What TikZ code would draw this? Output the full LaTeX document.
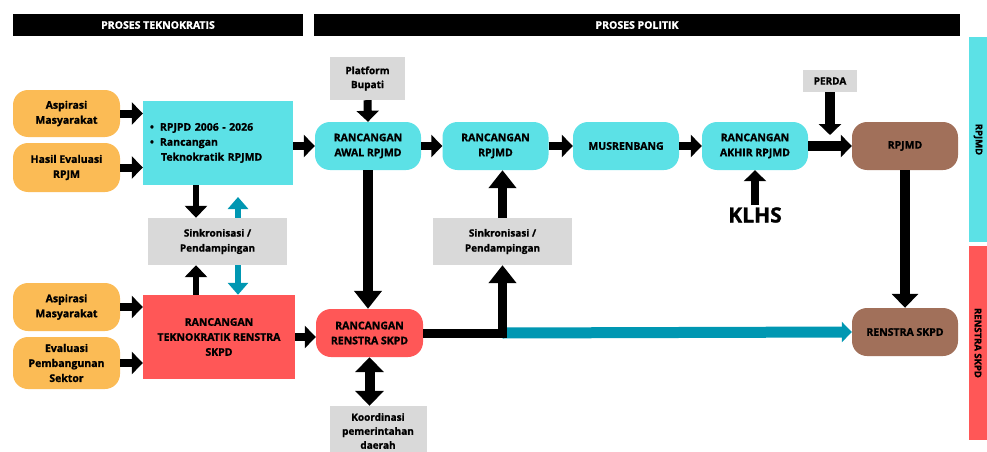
\documentclass[tikz,border=0pt]{standalone}
\usepackage{fontspec}
\setmainfont{Open Sans}[BoldFeatures = {FakeBold = 1.2}]
\usetikzlibrary{arrows.meta}

\definecolor{tosca}{HTML}{5CE1E6}
\definecolor{jingga}{HTML}{FBBB55}
\definecolor{merah}{HTML}{FF5757}
\definecolor{coklat}{HTML}{A1705A}
\definecolor{abu}{HTML}{D9D9D9}
\definecolor{biru}{HTML}{0097B2}

\begin{document}
\begin{tikzpicture}[x = 1pt, y = -1pt, font = \fontsize{10.5}{15}\selectfont\bfseries,
	kotak/.style = {fill = #1, align = center, inner sep = 0pt},
	pil/.style = {kotak = #1, rounded corners = 15pt},
	judul/.style = {fill = black, text = white, minimum height = 22pt, font = \fontsize{10.5}{11}\selectfont\bfseries},
	sisi/.style = {fill = #1, rotate = -90, minimum height = 18pt, font = \fontsize{9.5}{10}\selectfont\bfseries},
	panah/.style = {line width = 8pt, -{Triangle[length = 11pt, width = 22pt]}},
	panahkecil/.style = {line width = 6pt, -{Triangle[length = 12pt, width = 22pt]}},
	panahbesar/.style = {line width = 10pt, -{Triangle[length = 18pt, width = 27pt]}},
	panahbiru/.style = {line width = 6pt, biru, -{Triangle[length = 12pt, width = 20pt]}}]

\def\lebar{106pt}
\def\tinggi{48pt}

\useasboundingbox (0, 0) rectangle (987, 452);

\node [judul, minimum width = 290pt] (hdrT) at (158, 25) {PROSES TEKNOKRATIS};
\node [judul, minimum width = 646pt] (hdrP) at (637, 25) {PROSES POLITIK};

\node [sisi = tosca, minimum width = 205pt] (barR) at (978, 139.5) {RPJMD};
\node [sisi = merah, minimum width = 194pt] (barS) at (978, 343) {RENSTRA SKPD};

\node [pil = jingga, minimum width = 107pt, minimum height = 47pt] (asp1) at (66.5, 113.5) {Aspirasi\\Masyarakat};
\node [pil = jingga, minimum width = 107pt, minimum height = 49pt] (heval) at (66.5, 167.5) {Hasil Evaluasi\\RPJM};
\node [pil = jingga, minimum width = 107pt, minimum height = 48pt] (asp2) at (66.5, 307) {Aspirasi\\Masyarakat};
\node [pil = jingga, minimum width = 107pt, minimum height = 52pt] (evalpb) at (66.5, 363) {Evaluasi\\Pembangunan\\Sektor};

\node [kotak = tosca, minimum height = 84pt, text width = 136pt, inner xsep = 7pt, align = left] (tekRPJMD) at (218, 143)
	{\textbullet\hspace{6pt}RPJPD 2006 - 2026\\\textbullet\hspace{6pt}Rancangan\\\hspace{11pt}Teknokratik RPJMD};
\node [kotak = merah, minimum width = 152pt, minimum height = 84pt] (tekRenstra) at (219, 337) {RANCANGAN\\TEKNOKRATIK RENSTRA\\SKPD};

\node [kotak = abu, minimum width = 139pt, minimum height = 47pt, font = \fontsize{10}{15}\selectfont\bfseries] (sink1) at (217.5, 241.5) {Sinkronisasi /\\Pendampingan};
\node [kotak = abu, minimum width = 139pt, minimum height = 47pt, font = \fontsize{10}{15}\selectfont\bfseries] (sink2) at (502.5, 241.5) {Sinkronisasi /\\Pendampingan};
\node [kotak = abu, minimum width = 75pt, minimum height = 43pt, font = \fontsize{10}{14}\selectfont\bfseries] (platform) at (367.5, 78.5) {Platform\\Bupati};
\node [kotak = abu, minimum width = 54pt, minimum height = 22pt, font = \fontsize{10}{12}\selectfont\bfseries] (perda) at (830, 81) {PERDA};
\node [kotak = abu, minimum width = 97pt, minimum height = 50pt, font = \fontsize{10}{14}\selectfont\bfseries] (koord) at (378, 431) {Koordinasi\\pemerintahan\\daerah};

\node [pil = tosca, minimum width = \lebar, minimum height = \tinggi] (awal) at (368, 146) {RANCANGAN\\AWAL RPJMD};
\node [pil = tosca, minimum width = \lebar, minimum height = \tinggi] (ranc) at (495.5, 146) {RANCANGAN\\RPJMD};
\node [pil = tosca, minimum width = \lebar, minimum height = \tinggi] (musren) at (626, 146) {MUSRENBANG};
\node [pil = tosca, minimum width = \lebar, minimum height = \tinggi] (akhir) at (755, 146) {RANCANGAN\\AKHIR RPJMD};
\node [pil = coklat, minimum width = \lebar, minimum height = \tinggi] (rpjmd) at (905, 146) {RPJMD};
\node [pil = merah, minimum width = 107pt, minimum height = \tinggi] (renstra) at (369.5, 333) {RANCANGAN\\RENSTRA SKPD};
\node [pil = coklat, minimum width = \lebar, minimum height = \tinggi] (renSKPD) at (905, 332) {RENSTRA SKPD};

\node [font = \fontsize{21}{24}\selectfont\bfseries, inner sep = 2pt] (klhs) at (755, 215) {KLHS};

\coordinate (kiri) at (196, 0);
\coordinate (kanan) at (238, 0);
\coordinate (ujungbiru) at (238, 197);
\coordinate (ujungperda) at (830, 135);

\draw [panah] (asp1.east) -- (asp1.east -| tekRPJMD.west);
\draw [panah] (heval.east) -- (heval.east -| tekRPJMD.west);
\draw [panah] (asp2.east) -- (asp2.east -| tekRenstra.west);
\draw [panah] (evalpb.east) -- (evalpb.east -| tekRenstra.west);
\draw [panah] (tekRPJMD.east |- awal.west) -- (awal.west);
\draw [panah] (tekRenstra.east) -- (tekRenstra.east -| renstra.west);

\draw [panahkecil] (tekRPJMD.south -| kiri) -- (sink1.north -| kiri);
\draw [panahbiru] (sink1.north -| kanan) -- (ujungbiru);
\draw [panahkecil] (tekRenstra.north -| kiri) -- (sink1.south -| kiri);
\draw [panahbiru] (sink1.south -| kanan) -- (tekRenstra.north -| kanan);

\draw [panah] (platform.south) -- (awal.north);
\draw [panah] (awal.east) -- (ranc.west);
\draw [panah] (ranc.east) -- (musren.west);
\draw [panah] (musren.east) -- (akhir.west);
\draw [panah, line width = 10pt] (akhir.east) -- (rpjmd.west);
\draw [panah, line width = 10pt] (perda.south) -- (ujungperda);
\draw [panah] (klhs.north) -- (akhir.south);

\draw [panahbesar] (awal.south) -- (awal.south |- renstra.north);
\draw [panahbesar, {Triangle[length = 15pt, width = 28pt]}-{Triangle[length = 15pt, width = 28pt]}] (renstra.south) -- (renstra.south |- koord.north);

\draw [line width = 11pt, biru, -{Triangle[length = 10pt, width = 20pt]}] (sink2.south |- renstra.east) -- (renSKPD.west);
\draw [panahbesar, line width = 9pt] (renstra.east) -- (renstra.east -| sink2.south) -- (sink2.south);
\draw [panahbesar, line width = 9pt] (sink2.north) -- (sink2.north |- ranc.south);
\draw [panahbesar, -{Triangle[length = 14pt, width = 26pt]}] (rpjmd.south) -- (renSKPD.north);

\end{tikzpicture}
\end{document}
